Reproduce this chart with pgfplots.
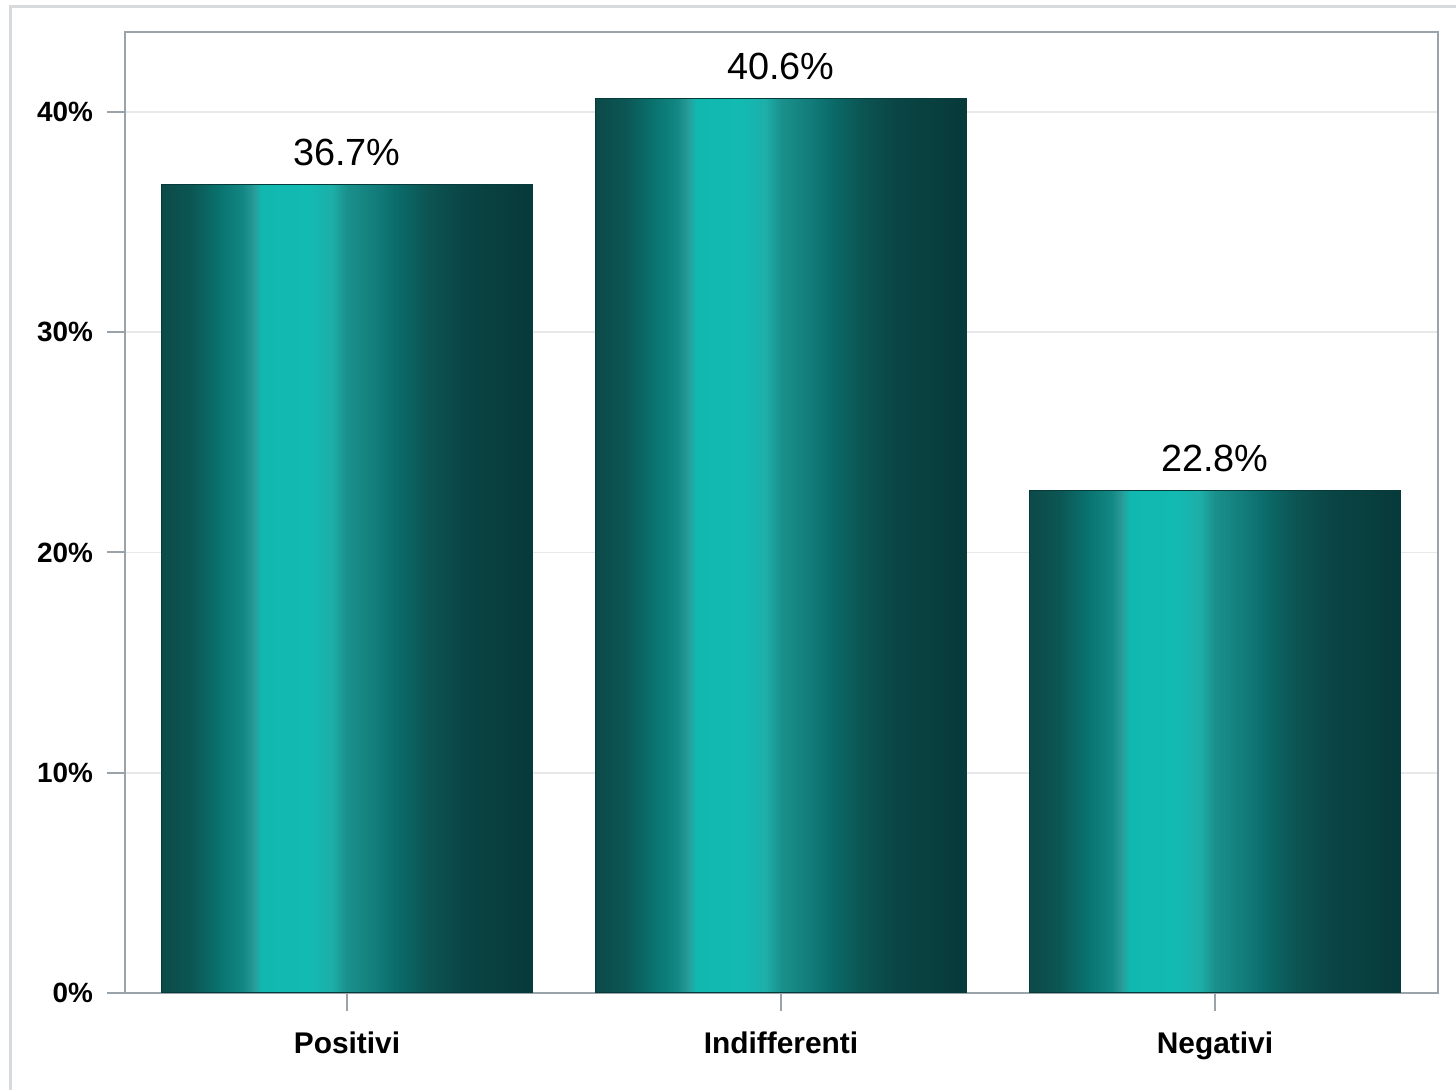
\documentclass[border=0pt]{standalone}
\usepackage{pgfplots}
\pgfplotsset{compat=1.18}
\usepackage{fontspec}
\setmainfont{Liberation Sans}
\definecolor{framegray}{HTML}{D6DADD}
\definecolor{axisgray}{HTML}{9AA3AA}
\definecolor{gridgray}{HTML}{E6E8EA}
\definecolor{c0}{HTML}{0C4A48}
\definecolor{c1}{HTML}{0B5654}
\definecolor{c2}{HTML}{0A7470}
\definecolor{c3}{HTML}{128884}
\definecolor{c4}{HTML}{2A9C9A}
\definecolor{c5}{HTML}{10B8B0}
\definecolor{c6}{HTML}{12BAB2}
\definecolor{c7}{HTML}{1EAEA8}
\definecolor{c8}{HTML}{1A908C}
\definecolor{c9}{HTML}{127C7A}
\definecolor{c10}{HTML}{0A6A68}
\definecolor{c11}{HTML}{0C5452}
\definecolor{c12}{HTML}{0A4444}
\definecolor{c13}{HTML}{073A3A}
\pgfdeclarehorizontalshading{barshade}{100bp}{%
color(0bp)=(c0); color(25bp)=(c0); color(29bp)=(c1); color(33bp)=(c2);
color(36bp)=(c3); color(37.5bp)=(c4); color(38.5bp)=(c5); color(45bp)=(c6);
color(48bp)=(c7); color(50bp)=(c8); color(54bp)=(c9); color(57bp)=(c10);
color(61bp)=(c11); color(66bp)=(c12); color(75bp)=(c13); color(100bp)=(c13)}
\pgfplotsset{
  tealbar/.style={ybar, bar width=0.855, bar shift=0, shade, shading=barshade,
    draw=c13, line width=0.6bp,
    nodes near coords={\pgfmathprintnumber[fixed,precision=1,fixed zerofill]{\pgfplotspointmeta}\%},
    every node near coord/.append style={font=\fontsize{19}{21}\selectfont, text=black, inner sep=0pt, anchor=south, yshift=9bp}}
}
\begin{document}
\begin{tikzpicture}
\useasboundingbox (-62.5bp,-48.5bp) rectangle (665.5bp,496.5bp);
\fill[white] (-62.5bp,-48.5bp) rectangle (665.5bp,496.5bp);
\draw[framegray, line width=1.5bp] (-57bp,-60bp) -- (-57bp,493bp) -- (680bp,493bp);
\begin{axis}[
  at={(0,0)}, anchor=south west,
  scale only axis, width=656.5bp, height=480.5bp,
  xmin=-0.5115, xmax=2.514, ymin=0, ymax=43.63,
  xtick={0,1,2}, xticklabels={Positivi,Indifferenti,Negativi},
  ytick={0,10,20,30,40},
  yticklabel={\pgfmathprintnumber{\tick}\%},
  /pgf/number format/assume math mode=true,
  xtick pos=bottom, ytick pos=left,
  tick align=outside, major tick length=9bp,
  tick style={axisgray, line width=1bp},
  axis line style={axisgray, line width=1bp},
  ymajorgrids, grid style={gridgray, line width=0.8bp},
  yticklabel style={font=\bfseries\fontsize{14}{16}\selectfont, text=black, xshift=-3.5bp},
  xticklabel style={font=\bfseries\fontsize{15}{17}\selectfont, text=black, yshift=-7bp},
]
\addplot[tealbar] coordinates {(0,36.7)};
\addplot[tealbar] coordinates {(1,40.6)};
\addplot[tealbar] coordinates {(2,22.8)};
\end{axis}
\end{tikzpicture}
\end{document}
